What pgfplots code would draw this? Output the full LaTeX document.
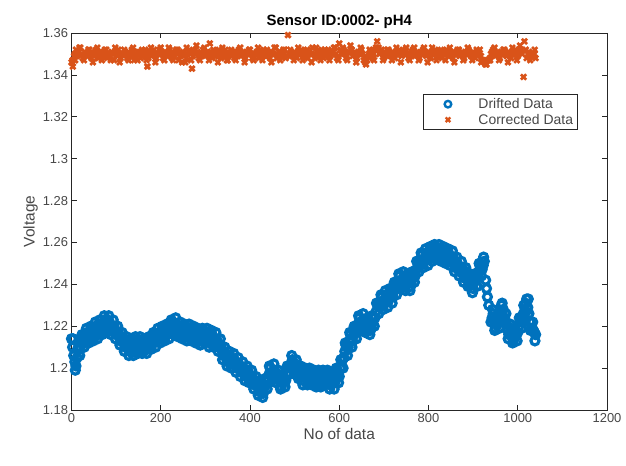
\documentclass[border=0pt]{standalone}
\usepackage{pgfplots}
\pgfplotsset{compat=1.18}
\usepackage{fontspec}
\setmainfont{Liberation Sans}
\definecolor{mblue}{RGB}{0,114,189}
\definecolor{morange}{RGB}{217,83,25}
\definecolor{mgray}{RGB}{38,38,38}
\begin{document}
\begin{tikzpicture}
\begin{axis}[
  name=ax,
  scale only axis,
  width=535.5bp, height=377bp,
  xmin=0, xmax=1200, ymin=1.18, ymax=1.36,
  xtick={0,200,...,1200},
  ytick={1.18,1.2,1.22,1.24,1.26,1.28,1.3,1.32,1.34,1.36},
  /pgf/number format/1000 sep={},
  /pgf/number format/assume math mode=true,
  tick align=inside,
  major tick length=5bp,
  axis line style={mgray, line width=0.6pt},
  every tick/.style={mgray, line width=0.6pt},
  tick label style={font=\fontsize{13}{15}\selectfont, text=mgray!85},
  xlabel={No of data}, ylabel={Voltage},
  label style={font=\fontsize{15.5}{17}\selectfont, text=mgray!85},
  xlabel style={yshift=1bp},
  ylabel style={yshift=-2bp},
  title={Sensor ID:0002- pH4},
  title style={font=\bfseries\fontsize{15}{16}\selectfont, yshift=-5bp},
  legend style={at={(0.656,0.838)}, anchor=north west, draw=mgray, line width=0.6pt,
    font=\fontsize{14}{15}\selectfont, text=mgray!85, inner sep=2bp, row sep=0bp},
  legend image code/.code={
    \path (0cm,0cm) (1.7cm,0cm);
    \draw[#1, mark size=3.3bp, line width=2.4bp] plot coordinates {(0.75cm,0cm)};},
  legend cell align=left,
  blue/.style={only marks, mark=o, mark size=4bp, mblue, line width=3.2bp},
  orng/.style={only marks, mark=x, mark size=3.7bp, morange, line width=2.7bp},
]
% drifted data
\addplot[blue] coordinates {
(0,1.214) (5,1.206) (10,1.201) (15,1.209) (20,1.210) (25,1.215) (30,1.213) (35,1.217)
(40,1.214) (45,1.219) (50,1.215) (55,1.220) (60,1.216) (65,1.221) (70,1.218) (75,1.223)
(80,1.220) (85,1.222) (90,1.218) (95,1.220) (100,1.216) (105,1.217) (110,1.213) (115,1.214)
(120,1.210) (125,1.212) (130,1.208) (135,1.212) (140,1.209) (145,1.213) (150,1.210) (155,1.213)
(160,1.209) (165,1.212) (170,1.209) (175,1.214) (180,1.211) (185,1.216) (190,1.213) (195,1.217)
(200,1.214) (205,1.218) (210,1.215) (215,1.220) (220,1.217) (225,1.222) (230,1.219) (235,1.221)
(240,1.217) (245,1.220) (250,1.216) (255,1.219) (260,1.215) (265,1.219) (270,1.215) (275,1.218)
(280,1.214) (285,1.217) (290,1.213) (295,1.218) (300,1.214) (305,1.216) (310,1.212) (315,1.216)
(320,1.212) (325,1.214) (330,1.210) (335,1.210) (340,1.206) (345,1.207) (350,1.203) (355,1.206)
(360,1.202) (365,1.204) (370,1.200) (375,1.202) (380,1.198) (385,1.200) (390,1.196) (395,1.199)
(400,1.195) (405,1.196) (410,1.192) (415,1.193) (420,1.189) (425,1.191) (430,1.188) (435,1.194)
(440,1.194) (445,1.200) (450,1.197) (455,1.199) (460,1.195) (465,1.196) (470,1.191) (475,1.195)
(480,1.194) (485,1.201) (490,1.201) (495,1.204) (500,1.200) (505,1.201) (510,1.196) (515,1.198)
(520,1.194) (525,1.198) (530,1.194) (535,1.198) (540,1.194) (545,1.197) (550,1.193) (555,1.197)
(560,1.193) (565,1.198) (570,1.194) (575,1.196) (580,1.192) (585,1.196) (590,1.193) (595,1.199)
(600,1.196) (605,1.204) (610,1.205) (615,1.211) (620,1.210) (625,1.216) (630,1.213) (635,1.219)
(640,1.218) (645,1.224) (650,1.221) (655,1.223) (660,1.219) (665,1.222) (670,1.218) (675,1.225)
(680,1.224) (685,1.231) (690,1.229) (695,1.234) (700,1.231) (705,1.235) (710,1.232) (715,1.237)
(720,1.234) (725,1.240) (730,1.238) (735,1.244) (740,1.241) (745,1.243) (750,1.240) (755,1.243)
(760,1.239) (765,1.246) (770,1.244) (775,1.251) (780,1.249) (785,1.254) (790,1.251) (795,1.255)
(800,1.252) (805,1.257) (810,1.254) (815,1.258) (820,1.254) (825,1.257) (830,1.253) (835,1.256)
(840,1.252) (845,1.255) (850,1.251) (855,1.253) (860,1.248) (865,1.250) (870,1.246) (875,1.248)
(880,1.243) (885,1.246) (890,1.240) (895,1.243) (900,1.238) (905,1.244) (910,1.243) (915,1.249)
(920,1.247) (925,1.251) (928,1.242) (930,1.238) (932,1.234) (935,1.230) (940,1.222) (945,1.226)
(950,1.219) (955,1.224) (960,1.222) (965,1.231) (970,1.224) (975,1.221) (980,1.216) (985,1.219)
(990,1.213) (995,1.218) (1000,1.217) (1005,1.224) (1010,1.222) (1015,1.230) (1020,1.233) (1025,1.226)
(1030,1.219) (1035,1.218) (1040,1.216)
};
\addlegendentry{Drifted Data}
\addplot[blue, forget plot] coordinates {
(2.5,1.210) (7.5,1.203) (12.5,1.205) (17.5,1.210) (22.5,1.212) (27.5,1.214) (32.5,1.215) (37.5,1.216)
(42.5,1.216) (47.5,1.217) (52.5,1.218) (57.5,1.218) (62.5,1.219) (67.5,1.220) (72.5,1.221) (77.5,1.221)
(82.5,1.221) (87.5,1.220) (92.5,1.219) (97.5,1.218) (102.5,1.216) (107.5,1.215) (112.5,1.213) (117.5,1.212)
(122.5,1.211) (127.5,1.210) (132.5,1.210) (137.5,1.210) (142.5,1.211) (147.5,1.211) (152.5,1.211) (157.5,1.211)
(162.5,1.210) (167.5,1.211) (172.5,1.211) (177.5,1.213) (182.5,1.213) (187.5,1.214) (192.5,1.215) (197.5,1.216)
(202.5,1.216) (207.5,1.217) (212.5,1.217) (217.5,1.218) (222.5,1.219) (227.5,1.220) (232.5,1.220) (237.5,1.219)
(242.5,1.218) (247.5,1.218) (252.5,1.217) (257.5,1.217) (262.5,1.217) (267.5,1.217) (272.5,1.216) (277.5,1.216)
(282.5,1.215) (287.5,1.215) (292.5,1.215) (297.5,1.216) (302.5,1.215) (307.5,1.214) (312.5,1.214) (317.5,1.214)
(322.5,1.213) (327.5,1.212) (332.5,1.210) (337.5,1.208) (342.5,1.206) (347.5,1.205) (352.5,1.204) (357.5,1.204)
(362.5,1.203) (367.5,1.202) (372.5,1.201) (377.5,1.200) (382.5,1.199) (387.5,1.198) (392.5,1.197) (397.5,1.197)
(402.5,1.195) (407.5,1.194) (412.5,1.192) (417.5,1.191) (422.5,1.190) (427.5,1.190) (432.5,1.191) (437.5,1.194)
(442.5,1.197) (447.5,1.198) (452.5,1.198) (457.5,1.197) (462.5,1.195) (467.5,1.194) (472.5,1.193) (477.5,1.195)
(482.5,1.197) (487.5,1.201) (492.5,1.202) (497.5,1.202) (502.5,1.200) (507.5,1.199) (512.5,1.197) (517.5,1.196)
(522.5,1.196) (527.5,1.196) (532.5,1.196) (537.5,1.196) (542.5,1.195) (547.5,1.195) (552.5,1.195) (557.5,1.195)
(562.5,1.195) (567.5,1.196) (572.5,1.195) (577.5,1.194) (582.5,1.194) (587.5,1.194) (592.5,1.196) (597.5,1.197)
(602.5,1.200) (607.5,1.204) (612.5,1.208) (617.5,1.210) (622.5,1.213) (627.5,1.214) (632.5,1.216) (637.5,1.218)
(642.5,1.221) (647.5,1.222) (652.5,1.222) (657.5,1.221) (662.5,1.220) (667.5,1.220) (672.5,1.221) (677.5,1.224)
(682.5,1.227) (687.5,1.230) (692.5,1.231) (697.5,1.232) (702.5,1.233) (707.5,1.233) (712.5,1.234) (717.5,1.235)
(722.5,1.237) (727.5,1.239) (732.5,1.241) (737.5,1.242) (742.5,1.242) (747.5,1.241) (752.5,1.241) (757.5,1.241)
(762.5,1.242) (767.5,1.245) (772.5,1.247) (777.5,1.250) (782.5,1.251) (787.5,1.252) (792.5,1.253) (797.5,1.253)
(802.5,1.254) (807.5,1.255) (812.5,1.256) (817.5,1.256) (822.5,1.255) (827.5,1.255) (832.5,1.254) (837.5,1.254)
(842.5,1.253) (847.5,1.253) (852.5,1.252) (857.5,1.250) (862.5,1.249) (867.5,1.248) (872.5,1.247) (877.5,1.245)
(882.5,1.244) (887.5,1.243) (892.5,1.241) (897.5,1.240) (902.5,1.241) (907.5,1.243) (912.5,1.246) (917.5,1.248)
(922.5,1.249) (942.5,1.224) (947.5,1.222) (952.5,1.221) (957.5,1.223) (962.5,1.226) (967.5,1.228) (972.5,1.222)
(977.5,1.218) (982.5,1.217) (987.5,1.216) (992.5,1.215) (997.5,1.217) (1002.5,1.220) (1007.5,1.223) (1012.5,1.226)
(1017.5,1.231) (1022.5,1.229) (1027.5,1.222) (1032.5,1.218) (1037.5,1.217)
};
\addplot[blue, forget plot] coordinates {
(3.5,1.214) (8.5,1.199) (13.5,1.209) (18.5,1.206) (23.5,1.216) (28.5,1.210) (33.5,1.219) (38.5,1.212)
(43.5,1.220) (48.5,1.213) (53.5,1.222) (58.5,1.214) (63.5,1.223) (68.5,1.216) (73.5,1.225) (78.5,1.217)
(83.5,1.225) (88.5,1.216) (93.5,1.223) (98.5,1.214) (103.5,1.220) (108.5,1.211) (113.5,1.217) (118.5,1.208)
(123.5,1.215) (128.5,1.206) (133.5,1.214) (138.5,1.206) (143.5,1.215) (148.5,1.207) (153.5,1.215) (158.5,1.207)
(163.5,1.214) (168.5,1.207) (173.5,1.215) (178.5,1.209) (183.5,1.217) (188.5,1.210) (193.5,1.219) (198.5,1.212)
(203.5,1.220) (208.5,1.213) (213.5,1.221) (218.5,1.214) (223.5,1.223) (228.5,1.216) (233.5,1.224) (238.5,1.215)
(243.5,1.222) (248.5,1.214) (253.5,1.221) (258.5,1.213) (263.5,1.221) (268.5,1.213) (273.5,1.220) (278.5,1.212)
(283.5,1.219) (288.5,1.211) (293.5,1.219) (298.5,1.212) (303.5,1.219) (308.5,1.210) (313.5,1.218) (318.5,1.210)
(323.5,1.217) (328.5,1.208) (333.5,1.214) (338.5,1.204) (343.5,1.210) (348.5,1.201) (353.5,1.208) (358.5,1.200)
(363.5,1.207) (368.5,1.198) (373.5,1.205) (378.5,1.196) (383.5,1.203) (388.5,1.194) (393.5,1.201) (398.5,1.193)
(403.5,1.199) (408.5,1.190) (413.5,1.196) (418.5,1.187) (423.5,1.194) (428.5,1.186) (433.5,1.195) (438.5,1.190)
(443.5,1.201) (448.5,1.194) (453.5,1.202) (458.5,1.193) (463.5,1.199) (468.5,1.190) (473.5,1.197) (478.5,1.191)
(483.5,1.201) (488.5,1.197) (493.5,1.206) (498.5,1.198) (503.5,1.204) (508.5,1.195) (513.5,1.201) (518.5,1.192)
(523.5,1.200) (528.5,1.192) (533.5,1.200) (538.5,1.192) (543.5,1.199) (548.5,1.191) (553.5,1.199) (558.5,1.191)
(563.5,1.199) (568.5,1.192) (573.5,1.199) (578.5,1.190) (583.5,1.198) (588.5,1.190) (593.5,1.200) (598.5,1.193)
(603.5,1.204) (608.5,1.200) (613.5,1.212) (618.5,1.206) (623.5,1.217) (628.5,1.210) (633.5,1.220) (638.5,1.214)
(643.5,1.225) (648.5,1.218) (653.5,1.226) (658.5,1.217) (663.5,1.224) (668.5,1.216) (673.5,1.225) (678.5,1.220)
(683.5,1.231) (688.5,1.226) (693.5,1.235) (698.5,1.228) (703.5,1.237) (708.5,1.229) (713.5,1.238) (718.5,1.231)
(723.5,1.241) (728.5,1.235) (733.5,1.245) (738.5,1.238) (743.5,1.246) (748.5,1.237) (753.5,1.245) (758.5,1.237)
(763.5,1.246) (768.5,1.241) (773.5,1.251) (778.5,1.246) (783.5,1.255) (788.5,1.248) (793.5,1.257) (798.5,1.249)
(803.5,1.258) (808.5,1.251) (813.5,1.259) (818.5,1.252) (823.5,1.259) (828.5,1.251) (833.5,1.258) (838.5,1.250)
(843.5,1.257) (848.5,1.249) (853.5,1.256) (858.5,1.246) (863.5,1.253) (868.5,1.244) (873.5,1.251) (878.5,1.241)
(883.5,1.248) (888.5,1.239) (893.5,1.245) (898.5,1.236) (903.5,1.245) (908.5,1.239) (913.5,1.250) (918.5,1.244)
(923.5,1.253) (943.5,1.228) (948.5,1.218) (953.5,1.225) (958.5,1.219) (963.5,1.230) (968.5,1.224) (973.5,1.226)
(978.5,1.214) (983.5,1.221) (988.5,1.212) (993.5,1.219) (998.5,1.213) (1003.5,1.224) (1008.5,1.219) (1013.5,1.230)
(1018.5,1.227) (1023.5,1.233) (1028.5,1.218) (1033.5,1.222) (1038.5,1.213)
};
% corrected data
\addplot[orng] coordinates {
(0,1.346) (3,1.344) (6,1.349) (10,1.352) (15,1.350) (20,1.353) (25,1.348) (30,1.351)
(35,1.349) (40,1.352) (45,1.348) (50,1.350) (55,1.352) (60,1.348) (65,1.351) (70,1.349)
(75,1.352) (80,1.348) (85,1.350) (90,1.351) (95,1.347) (100,1.350) (105,1.352) (110,1.348)
(115,1.350) (120,1.351) (125,1.348) (130,1.350) (135,1.352) (140,1.347) (145,1.350) (150,1.351)
(155,1.348) (160,1.349) (165,1.352) (170,1.344) (172,1.348) (175,1.351) (180,1.349) (185,1.352)
(190,1.348) (195,1.350) (200,1.353) (205,1.348) (210,1.351) (215,1.349) (220,1.352) (225,1.348)
(230,1.350) (235,1.352) (240,1.347) (245,1.350) (250,1.351) (255,1.346) (260,1.350) (265,1.352)
(270,1.343) (272,1.349) (275,1.351) (280,1.354) (285,1.348) (290,1.350) (295,1.352) (300,1.349)
(305,1.351) (310,1.355) (315,1.348) (320,1.351) (325,1.349) (330,1.352) (335,1.348) (340,1.350)
(345,1.352) (350,1.347) (355,1.350) (360,1.351) (365,1.348) (370,1.350) (375,1.352) (380,1.349)
(385,1.351) (390,1.348) (395,1.350) (400,1.352) (405,1.348) (410,1.350) (415,1.351) (420,1.348)
(425,1.350) (430,1.352) (435,1.349) (440,1.351) (445,1.348) (450,1.350) (455,1.353) (460,1.348)
(465,1.351) (470,1.349) (475,1.352) (480,1.348) (485,1.359) (488,1.350) (490,1.352) (495,1.349)
(500,1.351) (505,1.348) (510,1.350) (515,1.352) (520,1.349) (525,1.351) (530,1.348) (535,1.350)
(540,1.353) (545,1.348) (550,1.351) (555,1.349) (560,1.352) (565,1.348) (570,1.350) (575,1.352)
(580,1.349) (585,1.351) (590,1.353) (595,1.348) (600,1.355) (605,1.350) (610,1.352) (615,1.348)
(620,1.351) (625,1.354) (630,1.349) (635,1.351) (640,1.348) (645,1.350) (650,1.352) (655,1.347)
(660,1.345) (665,1.349) (670,1.351) (675,1.348) (680,1.352) (685,1.356) (690,1.350) (695,1.352)
(700,1.348) (705,1.350) (710,1.352) (715,1.349) (720,1.351) (725,1.348) (730,1.350) (735,1.352)
(740,1.349) (745,1.351) (750,1.353) (755,1.348) (760,1.350) (765,1.352) (770,1.349) (775,1.351)
(780,1.348) (785,1.350) (790,1.353) (795,1.349) (800,1.351) (805,1.348) (810,1.350) (815,1.352)
(820,1.349) (825,1.351) (830,1.348) (835,1.350) (840,1.352) (845,1.349) (850,1.351) (855,1.348)
(860,1.350) (865,1.352) (870,1.349) (875,1.351) (880,1.348) (885,1.350) (890,1.352) (895,1.349)
(900,1.351) (905,1.348) (910,1.350) (915,1.352) (920,1.347) (925,1.346) (930,1.345) (935,1.347)
(940,1.350) (945,1.352) (950,1.349) (955,1.351) (960,1.348) (965,1.350) (970,1.352) (975,1.349)
(980,1.351) (985,1.348) (990,1.350) (995,1.352) (1000,1.349) (1005,1.354) (1010,1.350) (1013,1.339)
(1015,1.356) (1018,1.352) (1020,1.348) (1025,1.351) (1030,1.349) (1035,1.350) (1040,1.348)
};
\addlegendentry{Corrected Data}
\addplot[orng, forget plot] coordinates {
(2.5,1.347) (7.5,1.350) (12.5,1.349) (17.5,1.351) (22.5,1.350) (27.5,1.349) (32.5,1.350) (37.5,1.351)
(42.5,1.349) (47.5,1.350) (52.5,1.351) (57.5,1.349) (62.5,1.350) (67.5,1.350) (72.5,1.351) (77.5,1.349)
(82.5,1.350) (87.5,1.349) (92.5,1.350) (97.5,1.351) (102.5,1.349) (107.5,1.350) (112.5,1.350) (117.5,1.349)
(122.5,1.350) (127.5,1.351) (132.5,1.349) (137.5,1.350) (142.5,1.349) (147.5,1.351) (152.5,1.350) (157.5,1.349)
(162.5,1.350) (167.5,1.350) (177.5,1.350) (182.5,1.351) (187.5,1.349) (192.5,1.350) (197.5,1.351) (202.5,1.350)
(207.5,1.349) (212.5,1.350) (217.5,1.351) (222.5,1.350) (227.5,1.349) (232.5,1.351) (237.5,1.350) (242.5,1.349)
(247.5,1.350) (252.5,1.349) (257.5,1.348) (262.5,1.351) (267.5,1.350) (277.5,1.350) (282.5,1.351) (287.5,1.349)
(292.5,1.350) (297.5,1.351) (302.5,1.350) (307.5,1.349) (312.5,1.351) (317.5,1.350) (322.5,1.349) (327.5,1.350)
(332.5,1.351) (337.5,1.349) (342.5,1.350) (347.5,1.350) (352.5,1.349) (357.5,1.351) (362.5,1.350) (367.5,1.349)
(372.5,1.351) (377.5,1.350) (382.5,1.350) (387.5,1.349) (392.5,1.350) (397.5,1.351) (402.5,1.350) (407.5,1.349)
(412.5,1.350) (417.5,1.350) (422.5,1.349) (427.5,1.351) (432.5,1.350) (437.5,1.350) (442.5,1.349) (447.5,1.351)
(452.5,1.350) (457.5,1.350) (462.5,1.349) (467.5,1.350) (472.5,1.351) (477.5,1.350) (482.5,1.349) (492.5,1.350)
(497.5,1.350) (502.5,1.349) (507.5,1.351) (512.5,1.350) (517.5,1.350) (522.5,1.349) (527.5,1.350) (532.5,1.351)
(537.5,1.350) (542.5,1.350) (547.5,1.349) (552.5,1.351) (557.5,1.350) (562.5,1.350) (567.5,1.349) (572.5,1.351)
(577.5,1.350) (582.5,1.350) (587.5,1.351) (592.5,1.350) (597.5,1.349) (602.5,1.352) (607.5,1.350) (612.5,1.350)
(617.5,1.349) (622.5,1.351) (627.5,1.352) (632.5,1.350) (637.5,1.349) (642.5,1.350) (647.5,1.351) (652.5,1.350)
(657.5,1.348) (662.5,1.347) (667.5,1.350) (672.5,1.350) (677.5,1.350) (682.5,1.353) (687.5,1.352) (692.5,1.351)
(697.5,1.350) (702.5,1.349) (707.5,1.351) (712.5,1.350) (717.5,1.350) (722.5,1.349) (727.5,1.350) (732.5,1.351)
(737.5,1.350) (742.5,1.350) (747.5,1.351) (752.5,1.350) (757.5,1.349) (762.5,1.351) (767.5,1.350) (772.5,1.350)
(777.5,1.349) (782.5,1.350) (787.5,1.351) (792.5,1.350) (797.5,1.350) (802.5,1.349) (807.5,1.350) (812.5,1.351)
(817.5,1.350) (822.5,1.350) (827.5,1.349) (832.5,1.350) (837.5,1.351) (842.5,1.350) (847.5,1.350) (852.5,1.349)
(857.5,1.350) (862.5,1.351) (867.5,1.350) (872.5,1.350) (877.5,1.349) (882.5,1.350) (887.5,1.351) (892.5,1.350)
(897.5,1.350) (902.5,1.349) (907.5,1.350) (912.5,1.351) (917.5,1.349) (922.5,1.347) (927.5,1.346) (932.5,1.347)
(937.5,1.348) (942.5,1.351) (947.5,1.350) (952.5,1.350) (957.5,1.349) (962.5,1.350) (967.5,1.351) (972.5,1.350)
(977.5,1.350) (982.5,1.349) (987.5,1.350) (992.5,1.351) (997.5,1.350) (1002.5,1.352) (1007.5,1.351) (1022.5,1.350)
(1027.5,1.350) (1032.5,1.349) (1037.5,1.350)
};
\addplot[orng, forget plot] coordinates {
(8,1.347) (18,1.353) (28,1.347) (38,1.352) (48,1.346) (58,1.353) (68,1.347) (78,1.352)
(88,1.347) (98,1.353) (108,1.346) (118,1.352) (128,1.347) (138,1.353) (148,1.347) (158,1.352)
(168,1.347) (178,1.353) (188,1.346) (198,1.352) (208,1.347) (218,1.353) (228,1.347) (238,1.352)
(248,1.346) (258,1.353) (268,1.347) (278,1.352) (288,1.347) (298,1.353) (308,1.347) (318,1.352)
(328,1.346) (338,1.353) (348,1.347) (358,1.352) (368,1.347) (378,1.353) (388,1.346) (398,1.352)
(408,1.347) (418,1.353) (428,1.347) (438,1.352) (448,1.346) (458,1.353) (468,1.347) (478,1.352)
(498,1.347) (508,1.353) (518,1.347) (528,1.352) (538,1.346) (548,1.353) (558,1.347) (568,1.352)
(578,1.347) (588,1.353) (598,1.347) (608,1.353) (618,1.347) (628,1.352) (638,1.346) (648,1.353)
(658,1.346) (668,1.352) (678,1.347) (688,1.353) (698,1.347) (708,1.352) (718,1.347) (728,1.353)
(738,1.346) (748,1.352) (758,1.347) (768,1.353) (778,1.347) (788,1.352) (798,1.346) (808,1.353)
(818,1.347) (828,1.352) (838,1.347) (848,1.353) (858,1.346) (868,1.352) (878,1.347) (888,1.353)
(898,1.347) (908,1.352) (918,1.346) (928,1.345) (938,1.347) (948,1.353) (958,1.347) (968,1.352)
(978,1.346) (988,1.353) (998,1.347) (1008,1.352) (1028,1.347) (1038,1.352)
};
\end{axis}
\pgfresetboundingbox
\path ([xshift=-71.5bp,yshift=-56bp]ax.south west) rectangle ([xshift=19bp,yshift=33bp]ax.north east);
\end{tikzpicture}
\end{document}
